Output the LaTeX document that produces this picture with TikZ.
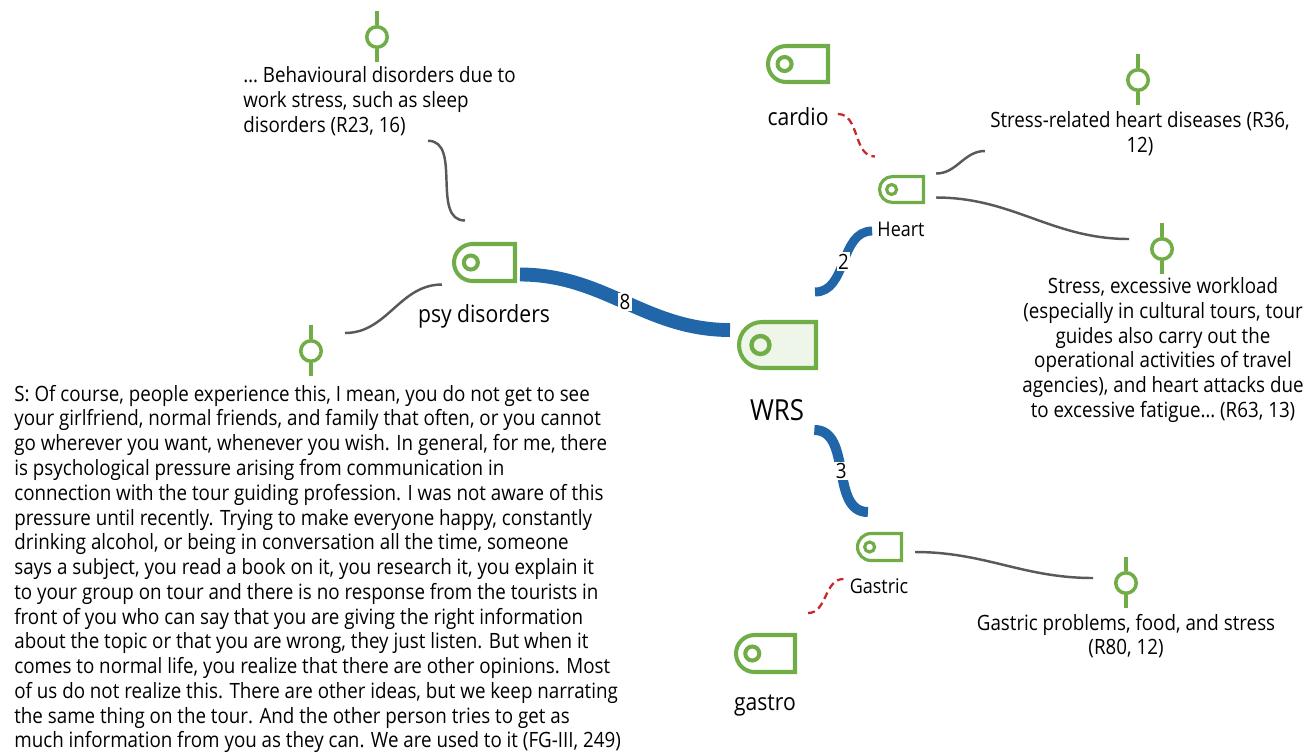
\documentclass[tikz,border=0pt]{standalone}
\usepackage{fontspec}
\setmainfont[FakeStretch=0.89]{Open Sans}
\usetikzlibrary{positioning,calc,shapes.misc}
\definecolor{codegreen}{HTML}{70AD47}
\definecolor{linkblue}{HTML}{2166A8}
\definecolor{linkgray}{HTML}{595959}
\definecolor{linkred}{HTML}{C8282D}
\definecolor{wrsfill}{HTML}{EEF5E9}
\newcommand\codedot[3]{\draw[codegreen, line width=#3] ($(#1.west)!0.29!(#1.east)$) circle (#2);}
\newcommand\memostem[1]{\draw[stem] (#1.north) -- ++(0,-14); \draw[stem] (#1.south) -- ++(0,13);}

\begin{document}
\begin{tikzpicture}[x=0.02cm, y=-0.02cm,
      txt/.style={font=\fontsize{12}{14.1}\selectfont, inner sep=0pt},
      code/.style={draw=codegreen, line width=2.3pt, rounded rectangle, rounded rectangle right arc=none,
                   inner sep=0pt, fill=white},
      memo/.style={draw=codegreen, line width=2pt, circle, inner sep=0pt, minimum size=0.41cm},
      stem/.style={codegreen, line width=2pt},
      lbl/.style={font=\fontsize{13.5}{16}\selectfont, inner sep=0pt},
      slbl/.style={font=\fontsize{11.5}{13}\selectfont, inner sep=0pt},
      link/.style={draw=linkblue, line width=#1},
      num/.style={fill=white, inner sep=0.8pt, font=\fontsize{12}{13}\selectfont},
      quote/.style={linkgray, line width=1.4pt},
      codelink/.style={linkred, line width=1.3pt, dash pattern=on 4pt off 2.5pt}]
    \useasboundingbox (0,0) rectangle (1315,752);
    \node[code, minimum width=1.22cm, minimum height=0.74cm] (psy) at (484.5,262.5) {};
    \node[code, fill=wrsfill, minimum width=1.54cm, minimum height=0.92cm] (wrs) at (777.5,345) {};
    \node[code, minimum width=1.2cm, minimum height=0.72cm] (cardio) at (798,64) {};
    \node[code, minimum width=0.88cm, minimum height=0.52cm, line width=1.8pt] (heart) at (901.5,189.5) {};
    \node[code, minimum width=0.88cm, minimum height=0.54cm, line width=1.8pt] (gastric) at (879.5,547) {};
    \node[code, minimum width=1.18cm, minimum height=0.74cm] (gastro) at (765.5,653.5) {};
    \codedot{psy}{0.14cm}{2.3pt} \codedot{wrs}{0.18cm}{2.5pt} \codedot{cardio}{0.14cm}{2.3pt}
    \codedot{heart}{0.1cm}{1.8pt} \codedot{gastric}{0.1cm}{1.8pt} \codedot{gastro}{0.14cm}{2.3pt}
    \node[lbl] (psylbl) at (484,316) {psy disorders};
    \node[lbl, font=\fontsize{16.5}{18}\selectfont] (wrslbl) at (777,410) {WRS};
    \node[lbl] (cardiolbl) at (798,117) {cardio};
    \node[slbl] (heartlbl) at (901,229) {Heart};
    \node[slbl] (gastriclbl) at (879,586) {Gastric};
    \node[lbl] (gastrolbl) at (765,706) {gastro};

    \node[memo] (m1) at (377,37) {}; \memostem{m1}
    \node[memo] (m2) at (311,351) {}; \memostem{m2}
    \node[memo] (m3) at (1138,80) {}; \memostem{m3}
    \node[memo] (m4) at (1162,249) {}; \memostem{m4}
    \node[memo] (m5) at (1126,583) {}; \memostem{m5}

    \node[txt, anchor=west, align=left] (q1) at (243,101) {… Behavioural disorders due to\\work stress, such as sleep\\disorders (R23, 16)};
    \node[txt, align=center] (q3) at (1140,134) {Stress-related heart diseases (R36,\\12)};
    \node[txt, align=center] (q4) at (1163,350) {Stress, excessive workload\\(especially in cultural tours, tour\\guides also carry out the\\operational activities of travel\\agencies), and heart attacks due\\to excessive fatigue… (R63, 13)};
    \node[txt, align=center] (q5) at (1126,636) {Gastric problems, food, and stress\\(R80, 12)};
    \node[txt, anchor=west, align=left] (q2) at (14,569) {S: Of course, people experience this, I mean, you do not get to see\\
      your girlfriend, normal friends, and family that often, or you cannot\\
      go wherever you want, whenever you wish. In general, for me, there\\
      is psychological pressure arising from communication in\\
      connection with the tour guiding profession. I was not aware of this\\
      pressure until recently. Trying to make everyone happy, constantly\\
      drinking alcohol, or being in conversation all the time, someone\\
      says a subject, you read a book on it, you research it, you explain it\\
      to your group on tour and there is no response from the tourists in\\
      front of you who can say that you are giving the right information\\
      about the topic or that you are wrong, they just listen. But when it\\
      comes to normal life, you realize that there are other opinions. Most\\
      of us do not realize this. There are other ideas, but we keep narrating\\
      the same thing on the tour. And the other person tries to get as\\
      much information from you as they can. We are used to it (FG-III, 249)};

    \draw[link=7.9pt] ($(psy.east)+(3,12)$) to[out=0, in=180] node[num] {8} ($(wrs.west)+(-7,-15)$);
    \draw[link=5.1pt] ($(wrs.north east)+(-3,-28)$) to[out=0, in=180] node[num] {2} ($(heartlbl.west)+(-5,2)$);
    \draw[link=5.7pt] ($(wrslbl.south east)+(10,9)$) to[out=0, in=180] node[num] {3} ($(gastric.west)+(12,-35)$);

    \draw[quote] ($(q1.south west)+(185,5)$) to[out=0, in=180] ($(psy.west)+(13,-42)$);
    \draw[quote] ($(m2.east)+(22,-18)$) to[out=0, in=180] ($(psy.west)+(-10,22)$);
    \draw[quote] ($(heart.east)+(11,-16)$) to[out=0, in=180] ($(q3.west)+(-5,17)$);
    \draw[quote] ($(heart.east)+(11,8)$) to[out=0, in=180] ($(m4.west)+(-21,-10)$);
    \draw[quote] ($(gastric.east)+(12,5)$) to[out=0, in=180] ($(m5.west)+(-21,-5)$);

    \draw[codelink] ($(cardiolbl.east)+(9,-3)$) to[out=0, in=180] ($(heart.west)+(-3,-33)$);
    \draw[codelink] ($(gastro.north east)+(11,-20)$) to[out=0, in=180] ($(gastriclbl.west)+(-6,-7)$);
  \end{tikzpicture}
\end{document}
